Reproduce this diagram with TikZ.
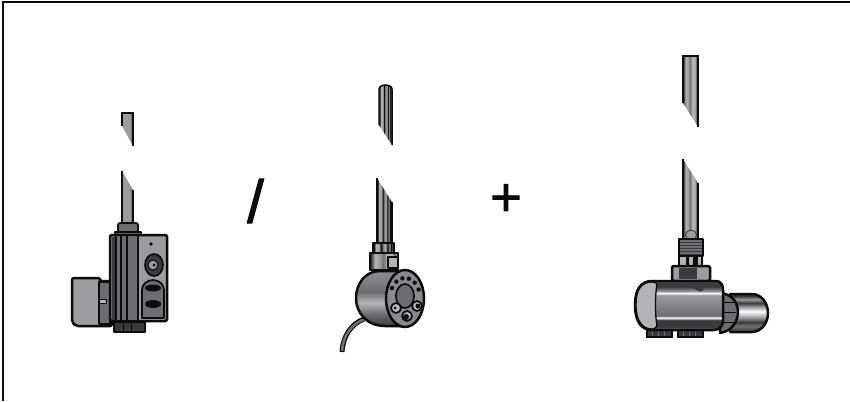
\documentclass[tikz,border=0pt]{standalone}
\usepackage{xcolor}
\usepackage{fontspec}
\setmainfont{Liberation Sans}
\newfontfamily\signfont[FakeBold=1.6]{Liberation Sans}
\usetikzlibrary{calc}
\definecolor{ink}{HTML}{0C0C0C}
\definecolor{bodygray}{HTML}{6E6E72}
\definecolor{sidegray}{HTML}{9C9CA0}
\definecolor{darkgray}{HTML}{3A3A3C}
\definecolor{facegray}{HTML}{8A8A8E}
\definecolor{paleend}{HTML}{B4B4B6}
\pgfdeclarehorizontalshading{rodflat}{100bp}{
  color(0bp)=(sidegray); color(25bp)=(sidegray); color(60bp)=(sidegray);
  color(68bp)=(bodygray); color(100bp)=(bodygray)}
\pgfdeclarehorizontalshading{rodstripe}{100bp}{
  color(0bp)=(ink); color(27bp)=(ink); color(32bp)=(paleend); color(40bp)=(sidegray);
  color(44bp)=(ink); color(48bp)=(bodygray); color(54bp)=(paleend); color(60bp)=(ink);
  color(64bp)=(sidegray); color(68bp)=(ink); color(72bp)=(bodygray); color(100bp)=(ink)}
\pgfdeclarehorizontalshading{rodmetal}{100bp}{
  color(0bp)=(darkgray); color(27bp)=(darkgray); color(34bp)=(paleend);
  color(42bp)=(sidegray); color(49bp)=(bodygray); color(55bp)=(paleend);
  color(64bp)=(paleend); color(68bp)=(bodygray); color(72bp)=(sidegray);
  color(100bp)=(darkgray)}
\pgfdeclareverticalshading{valvemetal}{100bp}{
  color(0bp)=(bodygray); color(25bp)=(bodygray); color(28.5bp)=(darkgray);
  color(35bp)=(darkgray); color(37.5bp)=(white); color(39.5bp)=(bodygray);
  color(60.5bp)=(sidegray); color(62.5bp)=(white); color(64.5bp)=(sidegray);
  color(69bp)=(darkgray); color(73bp)=(darkgray); color(75bp)=(bodygray);
  color(100bp)=(bodygray)}
\pgfdeclareverticalshading{bandmetal}{100bp}{
  color(0bp)=(darkgray); color(25bp)=(darkgray); color(33bp)=(bodygray);
  color(38bp)=(darkgray); color(44bp)=(sidegray); color(52bp)=(white);
  color(58bp)=(sidegray); color(63bp)=(darkgray); color(68bp)=(sidegray);
  color(72bp)=(darkgray); color(100bp)=(bodygray)}
\pgfdeclareverticalshading{roundmetal}{100bp}{
  color(0bp)=(darkgray); color(25bp)=(darkgray); color(36bp)=(bodygray);
  color(46bp)=(paleend); color(56bp)=(bodygray); color(72bp)=(facegray);
  color(100bp)=(facegray)}

\begin{document}
\begin{tikzpicture}[x=1pt,y=-1pt,
  part/.style={draw=ink,line width=1.7pt,line join=round},
  heavy/.style={part,line width=2.5pt},
  edge/.style={draw=ink,line width=1.5pt},
  flat/.style={part,fill=bodygray},
  dark/.style={part,fill=darkgray},
  thin/.style={draw=ink,line width=1pt},
  sign/.style={inner sep=0pt,font=\signfont\fontsize{60}{60}\selectfont,text=ink}
]
\useasboundingbox (0,0) rectangle (850,401);
\fill[white] (0,0) rectangle (850,401);
\coordinate (corner) at (3,2);
\draw[line width=2pt,draw=ink] (850,2) -- (corner) -- (3,401);

\node[sign] (slash) at (255.5,201) {/};
\node[sign,font=\signfont\fontsize{54}{54}\selectfont] (plus) at (506,200) {+};

% first heater
\shade[shading=rodflat] (122,113) -- (133,113) -- (133,146) -- (122,126) -- cycle;
\draw[edge] (122,126) -- (122,113) -- (133,113) -- (133,146);
\shade[shading=rodflat] (122,171) -- (133,190) -- (133,222) -- (122,222) -- cycle;
\draw[edge] (122,171) -- (122,222);
\draw[edge] (133,190) -- (133,222);
\draw[flat,rounded corners=2pt] (118,223) rectangle (138,232);
\draw[flat] (115,232) rectangle (141,236);
\draw[heavy,fill=sidegray,rounded corners=2pt] (72,278) -- (100,278) -- (100,281) -- (112,281) -- (112,326) -- (100,326) -- (76,326) -- (72,322) -- cycle;
\draw[part,fill=bodygray] (99,282) rectangle (110,324);
\draw[thin,fill=paleend] (99,299) rectangle (106,303);
\draw[dark] (114,322) rectangle (145,332);
\foreach \x in {123,131}
  \draw[thin] (\x,322) -- (\x,332);
\draw[heavy,fill=sidegray,rounded corners=1.5pt] (110,235) rectangle (167,321);
\fill[bodygray] (111.5,236.5) rectangle (138,319.5);
\fill[darkgray] (111.5,236.5) rectangle (116,319.5);
\foreach \x in {116,121,127,138}
  \draw[draw=ink,line width=1.3pt] (\x,236) -- (\x,320);
\fill[ink] (151,244) circle (1.8);
\draw[part,fill=darkgray] (154,265) ellipse (9 and 11);
\draw[thin,fill=sidegray] (153,265) circle (5);
\fill[ink] (154,265) circle (1.5);
\draw[part,fill=bodygray] (142,318) -- (142,290) arc[start angle=180,end angle=360,x radius=11,y radius=10] -- (164,318) -- cycle;
\fill[ink] (153,288) ellipse (8 and 3.5);
\fill[ink] (153,304) ellipse (8 and 4);

% second heater
\shade[shading=rodstripe] (379,89) arc[start angle=180,end angle=360,x radius=6.5,y radius=4] -- (392,145) -- (379,125) -- cycle;
\draw[edge] (379,125) -- (379,89) arc[start angle=180,end angle=360,x radius=6.5,y radius=4] -- (392,145);
\shade[shading=rodstripe] (377,178) -- (392,202) -- (392,243) -- (377,243) -- cycle;
\draw[edge] (377,178) -- (377,243);
\draw[edge] (392,202) -- (392,243);
\draw[heavy,shading=rodstripe] (373,243) rectangle (394,253);
\draw[heavy,shading=rodmetal] (370,253) rectangle (398,270);
\draw[part,fill=paleend] (388,257) rectangle (398,268);
\draw[draw=ink,line width=5pt] (364,319) .. controls (351,324) and (343,336) .. (342,352);
\draw[draw=bodygray,line width=2.6pt] (365,319) .. controls (351,324) and (343,336) .. (342,351);
\draw[heavy,shading=roundmetal] (405,271) -- (380,271) .. controls (365,271) and (356,284) .. (356,298) .. controls (356,313) and (367,326) .. (385,326) -- (405,326) -- cycle;
\draw[heavy,fill=facegray] (405,298.5) ellipse (19 and 28.5);
\draw[part,fill=bodygray] (405,296) ellipse (9 and 12);
\foreach \a in {-150,-125,-100,-75,-50,-25}
  \fill[ink] ($(405,298)+(\a:15 and 20)$) circle (2.2);
\foreach \c/\d in {396/308,407/316,417/306}
  \draw[part,fill=paleend] (\c,\d) circle (5);
\fill[ink] (395,308) circle (1.5);
\fill[ink] (406,317) circle (3);
\fill[ink] (418,306) circle (2.5);

% third heater
\shade[shading=rodmetal] (683,56) -- (698,56) -- (698,127) -- (683,103) -- cycle;
\draw[edge] (683,103) -- (683,56) -- (698,56) -- (698,127);
\shade[shading=rodmetal] (683,159) -- (698,183) -- (698,240) -- (683,240) -- cycle;
\draw[edge] (683,159) -- (683,240);
\draw[edge] (698,183) -- (698,240);
\draw[draw=darkgray,fill=sidegray,line width=.8pt] (691,235) ellipse (5.5 and 5);
\draw[heavy,fill=bodygray] (679,239) rectangle (703,256);
\foreach \y in {242,245,248,251,254}
  \draw[draw=darkgray,line width=.8pt] (680,\y) -- (702,\y);
\draw[heavy,fill=paleend] (679,256) rectangle (702,266);
\fill[ink] (686,257) rectangle (689,265);
\fill[ink] (693,257) rectangle (698,265);
\draw[heavy,fill=sidegray,rounded corners=1.5pt] (672,266) rectangle (710,281);
\fill[darkgray] (679,268) rectangle (697,279);
\draw[heavy,shading=bandmetal] (752,294) arc[start angle=-90,end angle=90,x radius=16,y radius=19] -- (730,332) -- (730,294) -- cycle;
\draw[heavy,fill=bodygray] (720,293) .. controls (734,294) and (738,305) .. (738,312) .. controls (738,320) and (733,331) .. (720,333) -- cycle;
\foreach \y in {302,312,322}
  \draw[thin] (724,\y) -- (736,\y);
\draw[draw=ink,fill=darkgray,line width=1.3pt] (647,328) rectangle (672,337);
\draw[draw=ink,fill=darkgray,line width=1.3pt] (678,328) rectangle (703,337);
\foreach \x in {652,658,664,683,689,695}
  \draw[draw=bodygray,line width=.7pt] (\x,329) -- (\x,336);
\draw[heavy,shading=valvemetal] (652,281) -- (716,281) .. controls (721,281) and (723,285) .. (723,290) -- (723,321) .. controls (723,326) and (719,330) .. (714,330) -- (652,330) .. controls (641,330) and (635,321) .. (635,305) .. controls (635,289) and (641,281) .. (652,281) -- cycle;
\fill[darkgray] (680,282) -- (704,282) -- (704,288) .. controls (703,293) and (699,292) .. (695,289) .. controls (690,285) and (686,283) .. (680,282) -- cycle;
\draw[draw=ink,fill=paleend,line width=1.3pt] (652,282) .. controls (641,282) and (636,290) .. (636,305) .. controls (636,320) and (642,329) .. (652,329) .. controls (654,329) and (656,328) .. (657,326) .. controls (655,315) and (655,295) .. (657,284) .. controls (656,283) and (654,282) .. (652,282) -- cycle;
\end{tikzpicture}
\end{document}
